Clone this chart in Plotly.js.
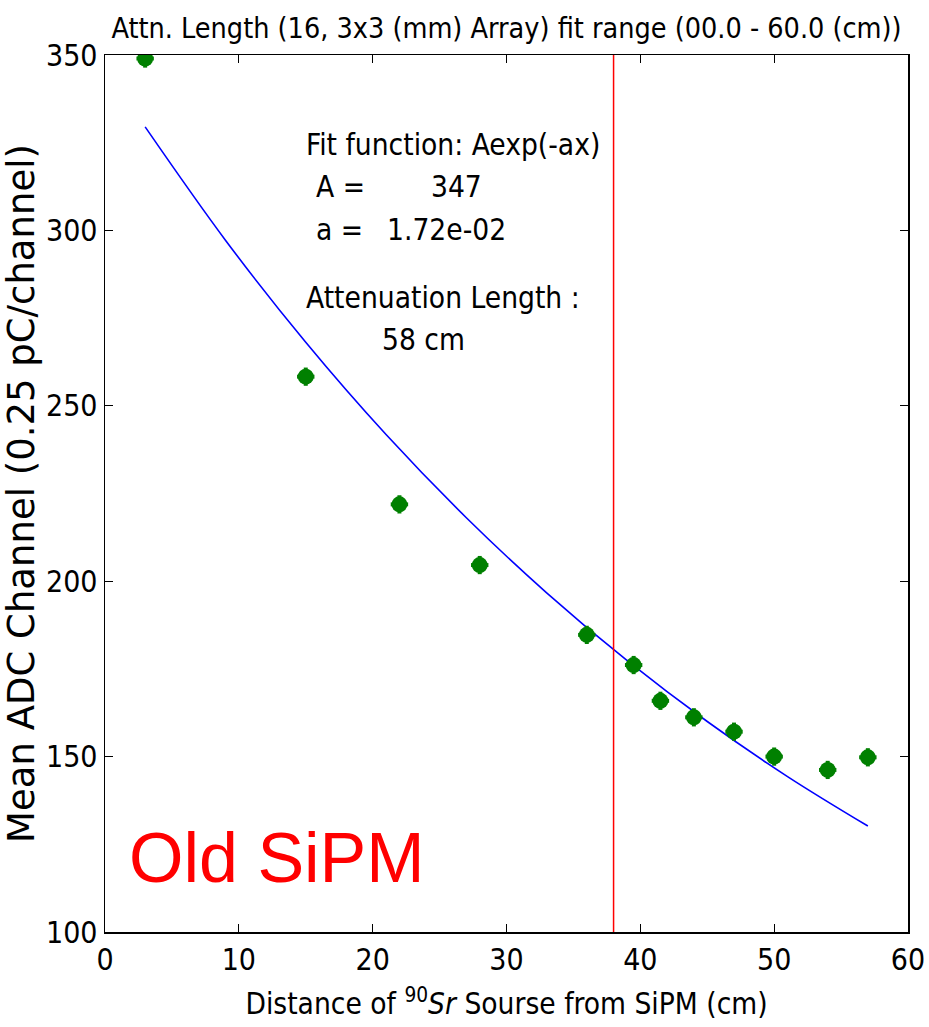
<!DOCTYPE html>
<html>
<head>
<meta charset="utf-8">
<script src="https://cdn.plot.ly/plotly-3.0.1.min.js"></script>
<style>html,body{margin:0;padding:0;background:#fff;}#chart{width:929px;height:1027px;}</style>
</head>
<body>
<div id="chart"></div>
<script>
// Measured data points
const distX = [3, 15, 22, 28, 36, 39.5, 41.5, 44, 47, 50, 54, 57];
const meanADC = [349, 258.3, 221.9, 204.6, 184.7, 176.1, 165.9, 161.2, 157.1, 150.0, 146.2, 149.8];
const errX = [0.65, 0.65, 0.65, 0.65, 0.65, 0.65, 0.65, 0.65, 0.65, 0.65, 0.65, 0.65];
const errY = [2.6, 2.6, 2.6, 2.6, 2.6, 2.6, 2.6, 2.6, 2.6, 2.6, 2.6, 2.6];
// Fit curve values
const fitX = [3, 9, 15, 21, 27, 33, 39, 45, 51, 57];
const fitY = [329.5, 297.2, 268.1, 241.8, 218.1, 196.7, 177.4, 160.0, 144.3, 130.2];
// Fit range marker
const cutX = 38;
// Tick labels
const xTicks = [0, 10, 20, 30, 40, 50, 60];
const yTicks = [100, 150, 200, 250, 300, 350];

const cond = "DejaVu Sans Condensed, DejaVu Sans, sans-serif";
function f(size, color) { return {family: cond, size: size, color: color || '#000', stretch: 'condensed'}; }

const traces = [
  {
    x: fitX, y: fitY, type: 'scatter', mode: 'lines',
    line: {color: '#0000ff', width: 1.6, shape: 'spline'},
    hoverinfo: 'skip', showlegend: false
  },
  {
    x: distX, y: meanADC, type: 'scatter', mode: 'markers',
    marker: {color: '#008000', size: 16},
    error_x: {type: 'data', array: errX, visible: true, color: '#008000', thickness: 4, width: 0},
    error_y: {type: 'data', array: errY, visible: true, color: '#008000', thickness: 4, width: 0},
    showlegend: false
  }
];

const axisCommon = {
  showgrid: false, zeroline: false,
  showline: true, linecolor: '#000', linewidth: 1.5, mirror: 'ticks',
  ticks: 'inside', ticklen: 8, tickwidth: 1, tickcolor: '#000',
  tickfont: f(30)
};

const ann = 29.6;

const layout = {
  width: 929, height: 1027,
  margin: {l: 105, r: 21, t: 55, b: 95},
  paper_bgcolor: '#fff', plot_bgcolor: '#fff',
  title: {
    text: 'Attn. Length (16, 3x3 (mm) Array) fit range (00.0 - 60.0 (cm))',
    font: f(28.5),
    x: 0.5, xref: 'paper', xanchor: 'center',
    y: 1 - 28 / 1027, yref: 'container', yanchor: 'middle'
  },
  xaxis: Object.assign({}, axisCommon, {
    range: [0, 60], tickvals: xTicks, ticktext: xTicks.map(String),
    title: {text: 'Distance of <sup>90</sup><i>Sr</i> Sourse from SiPM (cm)', font: f(29.6), standoff: 18}
  }),
  yaxis: Object.assign({}, axisCommon, {
    range: [100, 350], tickvals: yTicks, ticktext: yTicks.map(String),
    title: {text: 'Mean ADC Channel (0.25 pC/channel)', font: {family: 'DejaVu Sans, sans-serif', size: 37, color: '#000'}}
  }),
  shapes: [
    {type: 'line', xref: 'x', yref: 'paper', x0: cutX, x1: cutX, y0: 0, y1: 1, line: {color: '#ff0000', width: 1.5}}
  ],
  annotations: [
    {text: 'Fit function: Aexp(-ax)', xref: 'paper', yref: 'paper', x: 0.248, y: 0.897, xanchor: 'left', yanchor: 'middle', showarrow: false, font: f(ann)},
    {text: 'A =', xref: 'paper', yref: 'paper', x: 0.260, y: 0.850, xanchor: 'left', yanchor: 'middle', showarrow: false, font: f(ann)},
    {text: '347', xref: 'paper', yref: 'paper', x: 0.404, y: 0.850, xanchor: 'left', yanchor: 'middle', showarrow: false, font: f(ann)},
    {text: 'a =', xref: 'paper', yref: 'paper', x: 0.260, y: 0.800, xanchor: 'left', yanchor: 'middle', showarrow: false, font: f(ann)},
    {text: '1.72e-02', xref: 'paper', yref: 'paper', x: 0.349, y: 0.800, xanchor: 'left', yanchor: 'middle', showarrow: false, font: f(ann)},
    {text: 'Attenuation Length :', xref: 'paper', yref: 'paper', x: 0.248, y: 0.723, xanchor: 'left', yanchor: 'middle', showarrow: false, font: f(ann)},
    {text: '58 cm', xref: 'paper', yref: 'paper', x: 0.343, y: 0.675, xanchor: 'left', yanchor: 'middle', showarrow: false, font: f(ann)},
    {text: 'Old SiPM', xref: 'paper', yref: 'paper', x: 0.027, y: 0.084, xanchor: 'left', yanchor: 'middle', showarrow: false, font: {family: 'Liberation Sans, Arial, sans-serif', size: 70, color: '#ff0000'}}
  ]
};

Plotly.newPlot('chart', traces, layout, {displayModeBar: false, staticPlot: true});
</script>
</body>
</html>
